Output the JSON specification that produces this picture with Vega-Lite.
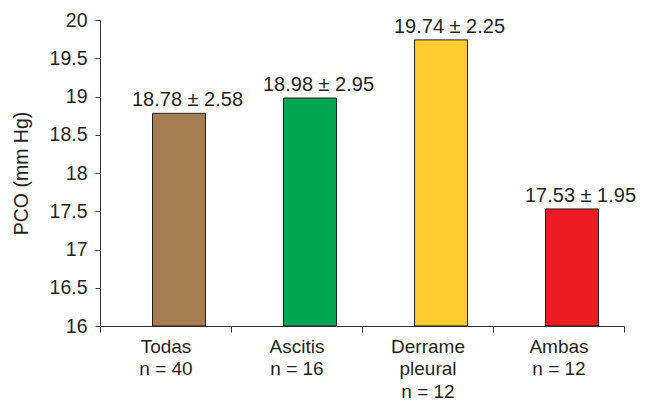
{
  "$schema": "https://vega.github.io/schema/vega-lite/v6.json",
  "width": 524,
  "height": 306,
  "autosize": {"type": "none"},
  "padding": {"left": 100, "top": 20, "right": 30, "bottom": 83},
  "background": "white",
  "config": {
    "view": {"stroke": null},
    "font": "Liberation Sans",
    "axis": {"grid": false, "domainColor": "#333333", "tickColor": "#333333", "labelColor": "#231F20", "titleColor": "#231F20", "labelFont": "Liberation Sans", "titleFont": "Liberation Sans", "titleFontWeight": "normal"}
  },
  "data": {
    "values": [
      {"grupo": "Todas|n = 40", "pco": 18.78, "sd": 2.58, "label": "18.78 ± 2.58"},
      {"grupo": "Ascitis|n = 16", "pco": 18.98, "sd": 2.95, "label": "18.98 ± 2.95"},
      {"grupo": "Derrame|pleural|n = 12", "pco": 19.74, "sd": 2.25, "label": "19.74 ± 2.25"},
      {"grupo": "Ambas|n = 12", "pco": 17.53, "sd": 1.95, "label": "17.53 ± 1.95"}
    ]
  },
  "encoding": {
    "x": {
      "field": "grupo", "type": "nominal", "sort": null,
      "scale": {"paddingInner": 0, "paddingOuter": 0},
      "axis": {"title": null, "labelAngle": 0, "labelExpr": "split(datum.label, '|')", "labelFontSize": 19, "labelLineHeight": 22.5, "labelPadding": 5, "tickBand": "extent", "tickSize": 6, "labelBaseline": "top"}
    },
    "y": {
      "field": "pco", "type": "quantitative",
      "scale": {"domain": [16, 20], "zero": false, "nice": false},
      "axis": {"title": "PCO (mm Hg)", "values": [16, 16.5, 17, 17.5, 18, 18.5, 19, 19.5, 20], "format": "~g", "tickSize": 5, "labelFontSize": 19.5, "titleFontSize": 19.5, "labelPadding": 8, "titlePadding": 18}
    }
  },
  "layer": [
    {
      "mark": {"type": "bar", "width": 53, "xOffset": 13.5, "stroke": "#231F20", "strokeWidth": 1},
      "encoding": {
        "y2": {"datum": 16},
        "color": {
          "field": "grupo", "type": "nominal", "legend": null,
          "scale": {"domain": ["Todas|n = 40", "Ascitis|n = 16", "Derrame|pleural|n = 12", "Ambas|n = 12"], "range": ["#A67C52", "#00A651", "#FFCB2F", "#ED1C24"]}
        }
      }
    },
    {
      "mark": {"type": "text", "xOffset": 22, "dy": -7, "baseline": "alphabetic", "fontSize": 20, "color": "#231F20"},
      "encoding": {"text": {"field": "label"}}
    }
  ]
}
